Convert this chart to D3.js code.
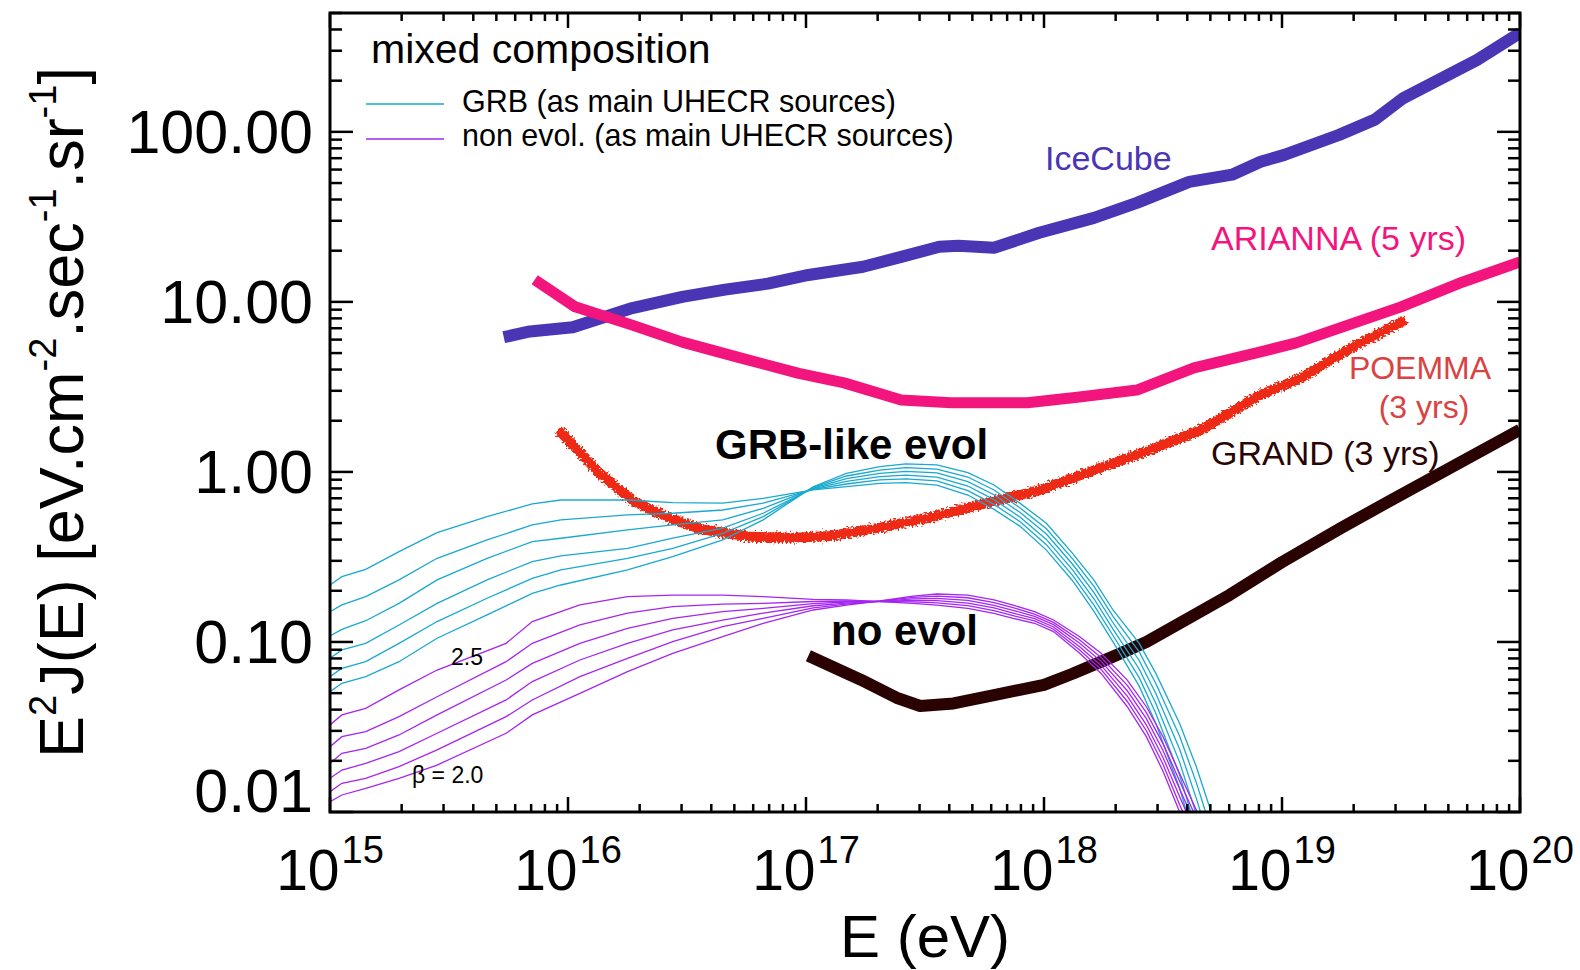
<!DOCTYPE html>
<html>
  <head>
    <meta charset="UTF-8">
    <title>E2J(E) mixed composition</title>
    <script src="https://cdn.jsdelivr.net/npm/d3@7"></script>
    <style>
      body { margin: 0; background: #fff; }
      svg text { font-family: "Liberation Sans", Arial, Helvetica, sans-serif; }
    </style>
  </head>
  <body>
    <svg width="1580" height="970"></svg>
    <script>
    // detector sensitivities: log10(E/eV) and E^2 J(E) in eV cm^-2 s^-1 sr^-1
    var iceCubeLogE = [15.73, 15.84, 16.02, 16.27, 16.48, 16.66, 16.84, 17.01, 17.24, 17.40, 17.56, 17.64, 17.79, 17.98, 18.21, 18.39, 18.61, 18.79, 18.91, 19.01, 19.24, 19.39, 19.51, 19.82, 20.0];
    var iceCubeFlux = [6.2, 6.7, 7.1, 9.2, 10.7, 11.8, 12.8, 14.4, 16.1, 18.4, 21.1, 21.4, 20.8, 25.5, 31.2, 38.2, 50.8, 56, 66.7, 73.2, 96, 118, 158, 265, 382];

    var ariannaLogE = [15.86, 16.03, 16.27, 16.48, 16.72, 16.97, 17.16, 17.40, 17.61, 17.93, 18.14, 18.39, 18.63, 18.91, 19.06, 19.50, 19.76, 20.0];
    var ariannaFlux = [13.5, 9.35, 7.3, 5.8, 4.7, 3.8, 3.34, 2.65, 2.55, 2.55, 2.75, 3.03, 4.09, 5.08, 5.74, 9.35, 13.1, 17.2];

    var poemmaLogE = [15.96, 16.04, 16.13, 16.27, 16.42, 16.56, 16.77, 16.95, 17.10, 17.31, 17.52, 17.73, 17.98, 18.24, 18.45, 18.66, 18.91, 19.08, 19.29, 19.52];
    var poemmaFlux = [1.77, 1.35, 0.99, 0.68, 0.54, 0.46, 0.415, 0.41, 0.42, 0.47, 0.54, 0.64, 0.78, 1.06, 1.35, 1.77, 2.84, 3.57, 5.36, 7.84];

    var grandLogE = [17.01, 17.23, 17.38, 17.48, 17.62, 17.80, 18.00, 18.12, 18.29, 18.43, 18.57, 18.78, 19.00, 19.25, 19.46, 20.0];
    var grandFlux = [0.083, 0.060, 0.047, 0.042, 0.0435, 0.049, 0.056, 0.065, 0.082, 0.10, 0.129, 0.189, 0.295, 0.47, 0.684, 1.77];

    // cosmogenic models, log10 of E^2 J(E), one curve per beta
    var grbLogE = [15.00, 15.05, 15.15, 15.29, 15.45, 15.66, 15.85, 15.97, 16.25, 16.44, 16.65, 16.82,
                   17.03, 17.17, 17.31, 17.42, 17.55, 17.68, 17.79, 17.90, 18.01, 18.12, 18.21, 18.29, 18.40, 18.47, 18.57, 18.64, 18.70, 18.78];
    var grb20 = [-1.292, -1.243, -1.204, -1.116, -0.978, -0.841, -0.714, -0.665, -0.576, -0.498, -0.400, -0.282,
                 -0.087, -0.008, 0.031, 0.047, 0.041, -0.004, -0.077, -0.185, -0.302, -0.479, -0.636, -0.812, -1.008, -1.185, -1.479, -1.734, -1.990, -2.30];
    var grb21 = [-1.204, -1.155, -1.116, -1.008, -0.880, -0.743, -0.626, -0.576, -0.508, -0.449, -0.361, -0.263,
                 -0.091, -0.024, 0.011, 0.025, 0.017, -0.030, -0.106, -0.212, -0.334, -0.511, -0.673, -0.850, -1.058, -1.244, -1.555, -1.827, -2.092, -2.42];
    var grb22 = [-1.096, -1.047, -1.008, -0.900, -0.773, -0.635, -0.527, -0.494, -0.449, -0.390, -0.331, -0.243,
                 -0.095, -0.040, -0.008, 0.003, -0.006, -0.057, -0.134, -0.239, -0.365, -0.543, -0.710, -0.887, -1.109, -1.303, -1.631, -1.920, -2.194, -2.54];
    var grb23 = [-0.965, -0.926, -0.875, -0.773, -0.635, -0.508, -0.410, -0.390, -0.341, -0.312, -0.282, -0.214,
                 -0.098, -0.055, -0.028, -0.019, -0.030, -0.083, -0.163, -0.266, -0.397, -0.576, -0.746, -0.925, -1.159, -1.362, -1.708, -2.014, -2.296, -2.66];
    var grb24 = [-0.822, -0.782, -0.733, -0.635, -0.508, -0.400, -0.312, -0.282, -0.253, -0.243, -0.224, -0.184,
                 -0.102, -0.071, -0.047, -0.041, -0.053, -0.110, -0.191, -0.293, -0.428, -0.608, -0.783, -0.962, -1.210, -1.421, -1.784, -2.107, -2.398, -2.78];
    var grb25 = [-0.665, -0.616, -0.573, -0.469, -0.357, -0.263, -0.188, -0.165, -0.165, -0.180, -0.184, -0.155,
                 -0.106, -0.087, -0.067, -0.063, -0.077, -0.136, -0.220, -0.320, -0.460, -0.640, -0.820, -1.000, -1.260, -1.480, -1.860, -2.200, -2.500, -2.90];

    var noEvolLogE = [15.00, 15.05, 15.15, 15.29, 15.45, 15.74, 15.85, 16.05, 16.25, 16.44, 16.65, 16.82,
                      17.03, 17.17, 17.31, 17.45, 17.55, 17.68, 17.79, 17.87, 17.96, 18.04, 18.15, 18.24, 18.35, 18.43, 18.50, 18.57, 18.64, 18.71];
    var noEvol20 = [-1.939, -1.900, -1.861, -1.802, -1.724, -1.537, -1.429, -1.302, -1.175, -1.067, -0.969, -0.890,
                    -0.812, -0.783, -0.759, -0.730, -0.718, -0.724, -0.753, -0.783, -0.822, -0.871, -0.969, -1.067, -1.224, -1.381, -1.557, -1.773, -1.988, -2.263];
    var noEvol21 = [-1.880, -1.831, -1.802, -1.733, -1.635, -1.439, -1.341, -1.204, -1.096, -0.998, -0.910, -0.861,
                    -0.799, -0.777, -0.760, -0.738, -0.731, -0.740, -0.769, -0.798, -0.836, -0.885, -0.988, -1.091, -1.255, -1.416, -1.598, -1.819, -2.036, -2.313];
    var noEvol22 = [-1.802, -1.753, -1.714, -1.645, -1.537, -1.341, -1.233, -1.106, -1.008, -0.929, -0.871, -0.831,
                    -0.787, -0.771, -0.761, -0.747, -0.744, -0.755, -0.785, -0.814, -0.849, -0.898, -1.008, -1.114, -1.287, -1.451, -1.638, -1.865, -2.084, -2.363];
    var noEvol23 = [-1.714, -1.655, -1.626, -1.547, -1.429, -1.224, -1.126, -1.008, -0.920, -0.861, -0.822, -0.802,
                    -0.774, -0.765, -0.761, -0.756, -0.757, -0.771, -0.800, -0.830, -0.863, -0.912, -1.028, -1.138, -1.318, -1.487, -1.679, -1.911, -2.132, -2.413];
    var noEvol24 = [-1.616, -1.557, -1.527, -1.439, -1.322, -1.116, -1.008, -0.900, -0.831, -0.792, -0.777, -0.773,
                    -0.762, -0.759, -0.762, -0.764, -0.770, -0.786, -0.816, -0.845, -0.876, -0.925, -1.047, -1.161, -1.350, -1.522, -1.719, -1.957, -2.180, -2.463];
    var noEvol25 = [-1.488, -1.429, -1.390, -1.282, -1.165, -1.008, -0.880, -0.782, -0.733, -0.724, -0.724, -0.733,
                    -0.749, -0.753, -0.763, -0.773, -0.783, -0.802, -0.832, -0.861, -0.890, -0.939, -1.067, -1.185, -1.381, -1.557, -1.760, -2.000, -2.228, -2.513];

    var grbLines = [grb20, grb21, grb22, grb23, grb24, grb25];
    var noEvolLines = [noEvol20, noEvol21, noEvol22, noEvol23, noEvol24, noEvol25];

    var xDecades = [15, 16, 17, 18, 19, 20];
    var yTickValues = [0.01, 0.1, 1, 10, 100];
    var yTickLabels = ["0.01", "0.10", "1.00", "10.00", "100.00"];

    var plot = {left: 330, right: 1520, top: 13, bottom: 812};
    var svg = d3.select("svg");

    var x = d3.scaleLog().domain([1e15, 1e20]).range([plot.left, plot.right]);
    var y = d3.scaleLog().domain([0.01, 500]).range([plot.bottom, plot.top]);

    var defs = svg.append("defs");
    defs.append("clipPath").attr("id", "plotClip")
      .append("rect")
      .attr("x", plot.left).attr("y", plot.top)
      .attr("width", plot.right - plot.left).attr("height", plot.bottom - plot.top);
    // ragged edge for the POEMMA band
    var rough = defs.append("filter").attr("id", "rough")
      .attr("filterUnits", "userSpaceOnUse")
      .attr("x", 0).attr("y", 0).attr("width", 1580).attr("height", 970);
    rough.append("feTurbulence").attr("type", "fractalNoise")
      .attr("baseFrequency", 0.5).attr("numOctaves", 2).attr("seed", 4).attr("result", "noise");
    rough.append("feDisplacementMap").attr("in", "SourceGraphic").attr("in2", "noise")
      .attr("scale", 8).attr("xChannelSelector", "R").attr("yChannelSelector", "G");

    var line = d3.line()
      .x(function(d){ return x(d[0]); })
      .y(function(d){ return y(d[1]); });

    function pairs(logE, flux){
      return logE.map(function(e, i){ return [Math.pow(10, e), flux[i]]; });
    }
    function logPairs(logE, logFlux){
      return logE.map(function(e, i){ return [Math.pow(10, e), Math.pow(10, logFlux[i])]; });
    }

    var g = svg.append("g").attr("clip-path", "url(#plotClip)");

    // thick sensitivity curves
    var detectors = [
      {data: pairs(iceCubeLogE, iceCubeFlux), color: "#4a35b4", width: 12},
      {data: pairs(ariannaLogE, ariannaFlux), color: "#f3157e", width: 11},
      {data: pairs(grandLogE, grandFlux), color: "#2a0202", width: 12}
    ];
    detectors.forEach(function(d){
      g.append("path")
        .attr("d", line(d.data))
        .attr("fill", "none")
        .attr("stroke", d.color)
        .attr("stroke-width", d.width)
        .attr("stroke-linejoin", "round");
    });
    g.append("path")
      .attr("d", line(pairs(poemmaLogE, poemmaFlux)))
      .attr("fill", "none")
      .attr("stroke", "#ee2a12")
      .attr("stroke-width", 10)
      .attr("stroke-linejoin", "round")
      .attr("filter", "url(#rough)");

    // thin model curves
    grbLines.forEach(function(l){
      g.append("path")
        .attr("d", line(logPairs(grbLogE, l)))
        .attr("fill", "none").attr("stroke", "#19a9cf").attr("stroke-width", 1.3);
    });
    noEvolLines.forEach(function(l){
      g.append("path")
        .attr("d", line(logPairs(noEvolLogE, l)))
        .attr("fill", "none").attr("stroke", "#a526ef").attr("stroke-width", 1.3);
    });

    // frame and inward ticks on all sides
    var axes = svg.append("g").attr("stroke", "#000").attr("stroke-width", 2.5);
    x.ticks().forEach(function(t){
      var major = Math.abs(Math.log10(t) - Math.round(Math.log10(t))) < 1e-6;
      var len = major ? 15 : 8;
      axes.append("line").attr("x1", x(t)).attr("x2", x(t)).attr("y1", plot.bottom).attr("y2", plot.bottom - len);
      axes.append("line").attr("x1", x(t)).attr("x2", x(t)).attr("y1", plot.top).attr("y2", plot.top + len);
    });
    y.ticks().forEach(function(t){
      var major = Math.abs(Math.log10(t) - Math.round(Math.log10(t))) < 1e-6;
      var len = major ? 23 : 12;
      axes.append("line").attr("y1", y(t)).attr("y2", y(t)).attr("x1", plot.left).attr("x2", plot.left + len);
      axes.append("line").attr("y1", y(t)).attr("y2", y(t)).attr("x1", plot.right).attr("x2", plot.right - len);
    });
    svg.append("rect")
      .attr("x", plot.left).attr("y", plot.top)
      .attr("width", plot.right - plot.left).attr("height", plot.bottom - plot.top)
      .attr("fill", "none").attr("stroke", "#000").attr("stroke-width", 3);

    // tick labels
    yTickValues.forEach(function(v, i){
      var base = v === 0.01 ? plot.bottom : y(v) + 21;
      svg.append("text")
        .attr("x", 313).attr("y", base)
        .attr("text-anchor", "end")
        .attr("font-size", 61)
        .text(yTickLabels[i]);
    });
    xDecades.forEach(function(p){
      var t = svg.append("text")
        .attr("x", x(Math.pow(10, p))).attr("y", 890)
        .attr("text-anchor", "middle")
        .attr("font-size", 57);
      t.append("tspan").text("10");
      t.append("tspan").attr("font-size", 38).attr("dx", 2).attr("dy", -27).text(p);
    });

    // axis titles
    svg.append("text")
      .attr("x", (plot.left + plot.right) / 2).attr("y", 957)
      .attr("text-anchor", "middle").attr("font-size", 60)
      .text("E (eV)");

    var yt = svg.append("text")
      .attr("transform", "translate(83," + ((plot.top + plot.bottom) / 2) + ") rotate(-90)")
      .attr("text-anchor", "middle").attr("font-size", 63);
    var parts = [["E", 0], ["2", 1], ["J(E) [eV.cm", 0], ["-2", 1], [".sec", 0], ["-1", 1], [".sr", 0], ["-1", 1], ["]", 0]];
    var up = false;
    parts.forEach(function(p){
      var s = yt.append("tspan").text(p[0]);
      if (p[1]) { s.attr("font-size", 38).attr("dy", -27); up = true; }
      else if (up) { s.attr("dy", 27); up = false; }
    });

    // legend
    svg.append("text").attr("x", 371).attr("y", 63).attr("font-size", 41).text("mixed composition");
    svg.append("line").attr("x1", 366).attr("x2", 444).attr("y1", 104).attr("y2", 104)
      .attr("stroke", "#19a9cf").attr("stroke-width", 1.5);
    svg.append("text").attr("x", 462).attr("y", 112).attr("font-size", 30.5).text("GRB (as main UHECR sources)");
    svg.append("line").attr("x1", 366).attr("x2", 444).attr("y1", 139).attr("y2", 139)
      .attr("stroke", "#a526ef").attr("stroke-width", 1.5);
    svg.append("text").attr("x", 462).attr("y", 146).attr("font-size", 30.5).text("non evol. (as main UHECR sources)");

    // curve labels
    var labels = [
      {t: "IceCube", x: 1045, y: 170, c: "#4a35b4", s: 34},
      {t: "ARIANNA (5 yrs)", x: 1211, y: 250, c: "#f3157e", s: 34},
      {t: "GRAND (3 yrs)", x: 1211, y: 465, c: "#2a0505", s: 34},
      {t: "2.5", x: 451, y: 665, c: "#000", s: 23},
      {t: "\u03b2 = 2.0", x: 412, y: 783, c: "#000", s: 23}
    ];
    labels.forEach(function(d){
      svg.append("text").attr("x", d.x).attr("y", d.y).attr("fill", d.c).attr("font-size", d.s).text(d.t);
    });
    svg.append("text").attr("x", 1420).attr("y", 379).attr("text-anchor", "middle")
      .attr("fill", "#d94343").attr("font-size", 32).text("POEMMA");
    svg.append("text").attr("x", 1424).attr("y", 418).attr("text-anchor", "middle")
      .attr("fill", "#d94343").attr("font-size", 32).text("(3 yrs)");
    svg.append("text").attr("x", 715).attr("y", 459).attr("font-size", 42).attr("font-weight", "bold").text("GRB-like evol");
    svg.append("text").attr("x", 831).attr("y", 645).attr("font-size", 42).attr("font-weight", "bold").text("no evol");
    </script>
  </body>
</html>
